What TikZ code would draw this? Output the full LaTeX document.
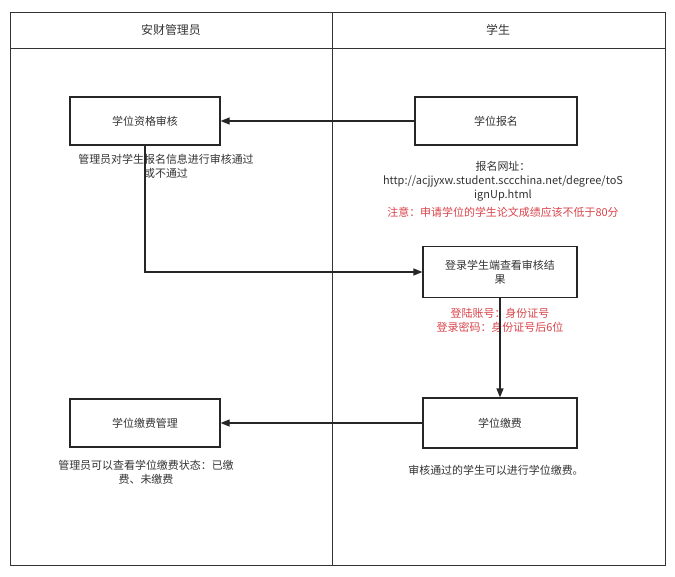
\documentclass[tikz,border=0pt]{standalone}
\usepackage{fontspec}
\setmainfont{Noto Sans CJK SC}
\usetikzlibrary{arrows.meta}
\definecolor{txt}{HTML}{333333}
\definecolor{red1}{HTML}{D9434A}
\begin{document}
\begin{tikzpicture}[x=1bp,y=-1bp,
  box/.style={draw=black!85,line width=1.2pt,minimum width=150bp,minimum height=48bp,text width=140bp,align=center,font=\fontsize{11}{14}\selectfont,text=txt,inner sep=2pt},
  note/.style={align=center,font=\fontsize{11}{14}\selectfont,text=txt,inner sep=0pt},
  rnote/.style={align=center,font=\fontsize{11}{14}\selectfont,text=red1,inner sep=0pt},
  conn/.style={draw=black!85,line width=1.2pt,-{Triangle[length=9bp,width=7bp]}}]
\useasboundingbox (0,0) rectangle (675,577);
\fill[white] (0,0) rectangle (675,577);
\draw[black!80,line width=0.8pt] (10,12) rectangle (665,565);
\draw[black!80,line width=0.8pt] (10,48) -- (665,48);
\draw[black!80,line width=0.8pt] (332,12) -- (332,565);
\node[note,font=\fontsize{12}{14}\selectfont] (h1) at (171,30) {安财管理员};
\node[note,font=\fontsize{12}{14}\selectfont] (h2) at (498,30) {学生};
\node[box] (a) at (145,121) {学位资格审核};
\node[box,minimum width=162bp] (b) at (496,121) {学位报名};
\node[box,minimum width=154bp,minimum height=51bp] (c) at (500,272) {登录学生端查看审核结\\果};
\node[box,minimum width=154bp,minimum height=50bp] (d) at (500,423) {学位缴费};
\node[box] (e) at (145,423) {学位缴费管理};
\node[note] (na) at (166,166) {管理员对学生报名信息进行审核通过\\或不通过};
\node[note] (nb) at (503,181) {报名网址：\\http://acjjyxw.student.sccchina.net/degree/toS\\ignUp.html};
\node[rnote] (nb2) at (503,212) {注意：申请学位的学生论文成绩应该不低于80分};
\node[rnote] (nc) at (500,320) {登陆账号：身份证号\\登录密码：身份证号后6位};
\node[note] (nd) at (496,470) {审核通过的学生可以进行学位缴费。};
\node[note] (ne) at (146,472) {管理员可以查看学位缴费状态：已缴\\费、未缴费};
\draw[conn] (b) -- (a);
\draw[conn] (a.south) -- (145,272) -- (c.west);
\draw[conn] (c) -- (d);
\draw[conn] (d) -- (e);
\end{tikzpicture}
\end{document}
